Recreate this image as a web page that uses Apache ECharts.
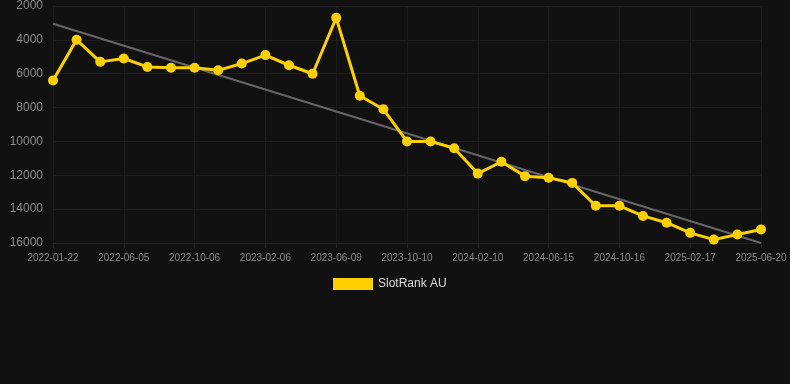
<!DOCTYPE html>
<html>
<head>
<meta charset="utf-8">
<style>
  html, body { margin: 0; padding: 0; background: #111111; }
  #chart { width: 790px; height: 384px; }
</style>
<script src="https://cdn.jsdelivr.net/npm/echarts@6/dist/echarts.min.js"></script>
</head>
<body>
<div id="chart"></div>
<script>
const dates = [
  '2022-01-22', '2022-03-08', '2022-04-22', '2022-06-05', '2022-07-16', '2022-08-26',
  '2022-10-06', '2022-11-16', '2022-12-27', '2023-02-06', '2023-03-19', '2023-04-29',
  '2023-06-09', '2023-07-20', '2023-08-30', '2023-10-10', '2023-11-20', '2023-12-31',
  '2024-02-10', '2024-03-22', '2024-05-03', '2024-06-15', '2024-07-26', '2024-09-05',
  '2024-10-16', '2024-11-26', '2025-01-06', '2025-02-17', '2025-03-30', '2025-05-10',
  '2025-06-20'
];
const rankAU = [
  6400, 4000, 5300, 5100, 5600, 5650, 5650, 5800, 5400, 4900, 5500, 6000,
  2700, 7300, 8100, 10000, 10000, 10400, 11900, 11200, 12050, 12150, 12450, 13800,
  13800, 14400, 14800, 15400, 15800, 15500, 15200
];
// trend line end points
const trendStart = 3050;
const trendEnd = 16000;
const trend = dates.map((d, i) => i === 0 ? trendStart : (i === dates.length - 1 ? trendEnd : null));

var myChart = echarts.init(document.getElementById('chart'));
const option = {
  backgroundColor: '#111111',
  animation: false,
  legend: {
    data: [{ name: 'SlotRank AU', icon: 'rect' }],
    top: 273,
    left: 328,
    itemWidth: 40,
    itemHeight: 12,
    itemGap: 10,
    textStyle: { color: '#dddddd', fontSize: 12 }
  },
  grid: {
    left: 53,
    right: 29,
    top: 6,
    bottom: 141
  },
  xAxis: {
    type: 'category',
    boundaryGap: false,
    data: dates,
    axisLine: { lineStyle: { color: '#262626' } },
    axisTick: { show: true, interval: 2, lineStyle: { color: '#262626' } },
    axisLabel: { interval: 2, color: '#8c8c8c', fontSize: 10, margin: 10 },
    splitLine: { show: true, interval: 2, lineStyle: { color: '#1c1c1c' } }
  },
  yAxis: {
    type: 'value',
    inverse: true,
    min: 2000,
    max: 16000,
    interval: 2000,
    axisLine: { show: false },
    axisTick: { show: false },
    axisLabel: { color: '#8c8c8c', fontSize: 12, margin: 10, formatter: v => String(v) },
    splitLine: { lineStyle: { color: '#1e1e1e' } }
  },
  series: [
    {
      name: 'SlotRank AU',
      type: 'line',
      data: rankAU,
      symbol: 'circle',
      symbolSize: 10,
      lineStyle: { color: '#FFD000', width: 3 },
      itemStyle: { color: '#FFD000' },
      z: 3
    },
    {
      name: 'Trend',
      type: 'line',
      data: trend,
      connectNulls: true,
      symbol: 'none',
      lineStyle: { color: '#666666', width: 2 },
      itemStyle: { color: '#666666' },
      z: 2
    }
  ]
};
myChart.setOption(option);
window.addEventListener('resize', () => {
  myChart.resize();
});
</script>
</body>
</html>
